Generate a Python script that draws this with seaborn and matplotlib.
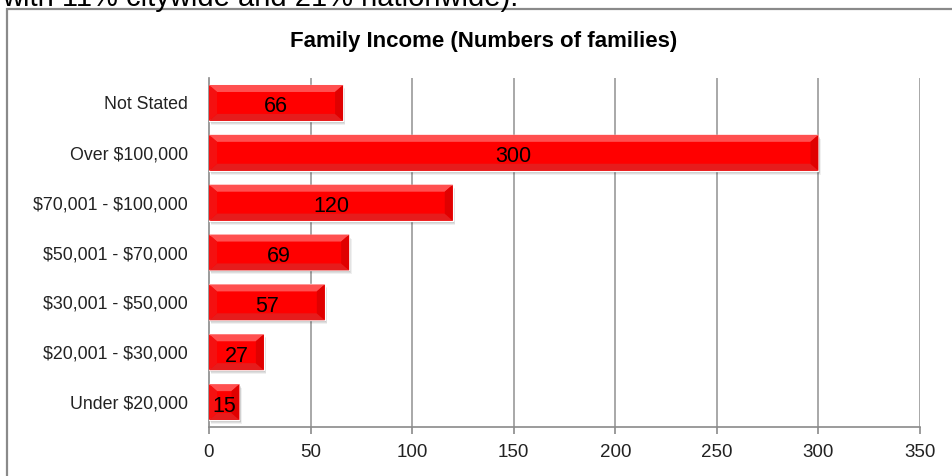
import matplotlib
matplotlib.use("Agg")
import matplotlib.pyplot as plt
from matplotlib.patches import Rectangle, Polygon
import seaborn as sns
import pandas as pd

categories = ["Not Stated", "Over $100,000", "$70,001 - $100,000", "$50,001 - $70,000",
              "$30,001 - $50,000", "$20,001 - $30,000", "Under $20,000"]
values = [66, 300, 120, 69, 57, 27, 15]
xticks = [0, 50, 100, 150, 200, 250, 300, 350]
title = "Family Income (Numbers of families)"
caption_cut = "with 11% citywide and 21% nationwide)."

sns.set_theme(style="white")
plt.rcParams["font.family"] = ["Liberation Sans", "DejaVu Sans"]

df = pd.DataFrame({"cat": categories, "val": values})

W, H = 952, 476
fig = plt.figure(figsize=(W / 100, H / 100), dpi=100)
ax = fig.add_axes([209 / W, 1 - 427 / H, (920 - 209) / W, (427 - 78) / H])

sns.barplot(data=df, y="cat", x="val", orient="h", color="#ff0000", width=0.72,
            saturation=1, ax=ax, zorder=3)

ax.set_xlim(0, 350)
ax.set_xticks(xticks)
ax.set_xticklabels([str(t) for t in xticks])
ax.set_xlabel("")
ax.set_ylabel("")

# grid
ax.grid(False)
for t in xticks[1:]:
    ax.axvline(t, color="#9a9a9a", lw=1.2, zorder=1)

for s in ["top", "right"]:
    ax.spines[s].set_visible(False)
for s in ["left", "bottom"]:
    ax.spines[s].set_color("#8a8a8a")
    ax.spines[s].set_linewidth(1.2)

# y ticks at category boundaries
n = len(categories)
ax.set_yticks(range(n))
ax.set_yticklabels([c.replace("$", r"\$") for c in categories])
ax.tick_params(axis="y", length=0, labelsize=12.8, labelcolor="#222222", pad=15)
ax.set_yticks([i - 0.5 for i in range(n + 1)], minor=True)
ax.tick_params(axis="y", which="minor", length=5, color="#8a8a8a", width=1.2)
ax.tick_params(axis="x", length=5, color="#8a8a8a", width=1.2, labelsize=13.5,
               labelcolor="#222222", pad=7, direction="out")
ax.xaxis.set_ticks_position("bottom")
ax.set_ylim(n - 0.5, -0.5)

# bevel + shadow from bar patches
px_x = 350 / (920 - 209)
px_y = 1 / ((427 - 78) / n)
bars = list(ax.patches)
for p in bars:
    x0, y0 = p.get_x(), p.get_y()
    w, h = p.get_width(), p.get_height()
    y1 = y0 + h  # y0 top (inverted), y1 bottom
    bx = 8 * px_x
    by = 7 * px_y
    bx = min(bx, w / 2)
    # shadow
    for k, a in [(4, 0.06), (3, 0.08), (2, 0.1)]:
        ax.add_patch(Rectangle((x0 + k * px_x * 0.6, y0 + k * px_y), w, h,
                               facecolor="#000000", alpha=a, lw=0, zorder=2))
    top = Polygon([(x0, y0), (x0 + w, y0), (x0 + w - bx, y0 + by), (x0 + bx, y0 + by)],
                  closed=True, facecolor="#ff5050", lw=0, zorder=4)
    bot = Polygon([(x0, y1), (x0 + w, y1), (x0 + w - bx, y1 - by), (x0 + bx, y1 - by)],
                  closed=True, facecolor="#e61c1c", lw=0, zorder=4)
    left = Polygon([(x0, y0), (x0 + bx, y0 + by), (x0 + bx, y1 - by), (x0, y1)],
                   closed=True, facecolor="#f51010", lw=0, zorder=4)
    right = Polygon([(x0 + w, y0), (x0 + w - bx, y0 + by), (x0 + w - bx, y1 - by), (x0 + w, y1)],
                    closed=True, facecolor="#e00000", lw=0, zorder=4)
    for poly in (top, bot, left, right):
        ax.add_patch(poly)

for i, v in enumerate(values):
    ax.text(v / 2, i + 0.03, str(v), ha="center", va="center_baseline", fontsize=15.5,
            color="#000000", zorder=6)

fig.text(484 / W, 1 - 42 / H, title, ha="center", va="center", fontsize=16,
         fontweight="bold", color="#000000")

# chart border
fig.patches.append(Rectangle((7 / W, -0.1), 1.2, 1 - 9 / H + 0.1, transform=fig.transFigure,
                             fill=False, edgecolor="#8a8a8a", lw=1.6, zorder=0))
fig.text(2 / W, 1 - 6 / H, caption_cut, ha="left", va="baseline", fontsize=21,
         color="#000000")

fig.savefig("out.png", dpi=100)
